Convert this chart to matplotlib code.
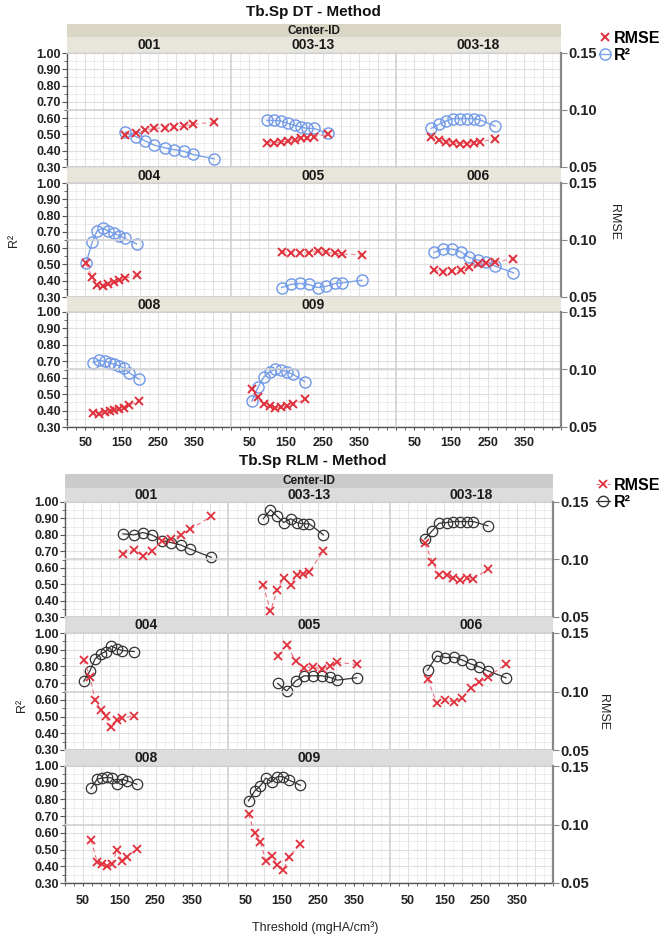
import matplotlib
matplotlib.use('Agg')
import matplotlib.pyplot as plt
from matplotlib.lines import Line2D
from matplotlib.patches import Rectangle
import numpy as np

FONT = ['Liberation Sans', 'DejaVu Sans']
plt.rcParams['font.family'] = FONT

# ---------------- data ----------------
centers = ['001', '003-13', '003-18', '004', '005', '006', '008', '009']

threshold = {
    '001':    [160, 190, 215, 240, 268, 293, 320, 345, 404],
    '003-13': [98, 118, 137, 155, 174, 191, 208, 226, 265],
    '003-18': [96, 117, 136, 156, 175, 194, 212, 230, 270],
    '004':    [52, 69, 83, 99, 112, 128, 144, 158, 191],
    '005':    [138, 163, 188, 212, 236, 260, 284, 304, 357],
    '006':    [104, 129, 153, 177, 199, 223, 246, 270, 320],
    '008':    [72, 89, 103, 117, 130, 144, 156, 170, 198],
    '009':    [57, 74, 90, 105, 121, 137, 153, 169, 201],
}

dt_r2 = {
    '001':    [0.514, 0.486, 0.459, 0.434, 0.418, 0.407, 0.397, 0.377, 0.350],
    '003-13': [0.586, 0.586, 0.582, 0.568, 0.556, 0.545, 0.537, 0.537, 0.506],
    '003-18': [0.537, 0.562, 0.582, 0.597, 0.597, 0.597, 0.597, 0.588, 0.551],
    '004':    [0.506, 0.636, 0.708, 0.722, 0.706, 0.691, 0.677, 0.660, 0.626],
    '005':    [0.358, 0.377, 0.383, 0.377, 0.358, 0.366, 0.383, 0.387, 0.403],
    '006':    [0.574, 0.595, 0.595, 0.578, 0.543, 0.527, 0.516, 0.490, 0.449],
    '008':    [0.692, 0.707, 0.699, 0.692, 0.682, 0.672, 0.658, 0.631, 0.591],
    '009':    [0.458, 0.544, 0.605, 0.635, 0.652, 0.648, 0.635, 0.621, 0.576],
}

dt_rmse = {
    '001':    [0.0780, 0.0800, 0.0824, 0.0839, 0.0844, 0.0850, 0.0859, 0.0874, 0.0894],
    '003-13': [0.0713, 0.0713, 0.0719, 0.0727, 0.0741, 0.0750, 0.0756, 0.0766, 0.0786],
    '003-18': [0.0763, 0.0736, 0.0721, 0.0713, 0.0706, 0.0706, 0.0713, 0.0721, 0.0747],
    '004':    [0.0794, 0.0677, 0.0603, 0.0594, 0.0613, 0.0633, 0.0653, 0.0663, 0.0691],
    '005':    [0.0897, 0.0889, 0.0883, 0.0889, 0.0903, 0.0891, 0.0883, 0.0877, 0.0869],
    '006':    [0.0736, 0.0721, 0.0727, 0.0736, 0.0766, 0.0786, 0.0800, 0.0806, 0.0836],
    '008':    [0.0624, 0.0616, 0.0630, 0.0639, 0.0647, 0.0659, 0.0669, 0.0689, 0.0726],
    '009':    [0.0829, 0.0764, 0.0703, 0.0683, 0.0669, 0.0674, 0.0683, 0.0697, 0.0740],
}

rlm_r2 = {
    '001':    [0.806, 0.800, 0.814, 0.800, 0.765, 0.753, 0.738, 0.714, 0.663],
    '003-13': [0.898, 0.953, 0.912, 0.875, 0.898, 0.875, 0.867, 0.867, 0.800],
    '003-18': [0.775, 0.826, 0.871, 0.875, 0.881, 0.881, 0.881, 0.881, 0.855],
    '004':    [0.712, 0.774, 0.845, 0.875, 0.889, 0.923, 0.905, 0.895, 0.889],
    '005':    [0.698, 0.653, 0.714, 0.744, 0.744, 0.744, 0.734, 0.718, 0.732],
    '006':    [0.778, 0.863, 0.853, 0.855, 0.839, 0.815, 0.798, 0.774, 0.732],
    '008':    [0.866, 0.922, 0.928, 0.932, 0.928, 0.895, 0.922, 0.912, 0.891],
    '009':    [0.792, 0.850, 0.881, 0.928, 0.905, 0.936, 0.936, 0.916, 0.885],
}

rlm_rmse = {
    '001':    [0.1047, 0.1083, 0.1030, 0.1076, 0.1161, 0.1179, 0.1214, 0.1263, 0.1374],
    '003-13': [0.0776, 0.0550, 0.0737, 0.0843, 0.0776, 0.0869, 0.0871, 0.0893, 0.1076],
    '003-18': [0.1140, 0.0980, 0.0869, 0.0869, 0.0843, 0.0826, 0.0840, 0.0829, 0.0916],
    '004':    [0.1270, 0.1126, 0.0924, 0.0843, 0.0794, 0.0693, 0.0757, 0.0771, 0.0794],
    '005':    [0.1307, 0.1399, 0.1261, 0.1203, 0.1211, 0.1191, 0.1220, 0.1250, 0.1231],
    '006':    [0.1106, 0.0901, 0.0924, 0.0910, 0.0944, 0.1033, 0.1077, 0.1126, 0.1231],
    '008':    [0.0866, 0.0677, 0.0660, 0.0644, 0.0660, 0.0786, 0.0691, 0.0721, 0.0791],
    '009':    [0.1089, 0.0927, 0.0850, 0.0689, 0.0727, 0.0653, 0.0610, 0.0719, 0.0830],
}

r2_ticks = [0.30, 0.40, 0.50, 0.60, 0.70, 0.80, 0.90, 1.00]
rmse_ticks = [0.05, 0.10, 0.15]
x_ticklabels = [50, 150, 250, 350]

# ---------------- layout helpers ----------------
W, H = 667, 939
fig = plt.figure(figsize=(W / 100, H / 100), dpi=100)


def rect(x0, y0, x1, y1):
    return [x0 / W, 1 - y1 / H, (x1 - x0) / W, (y1 - y0) / H]


def strip(x0, y0, x1, y1, color, text, size=9.5):
    ax = fig.add_axes(rect(x0, y0, x1, y1))
    ax.set_xlim(0, 1)
    ax.set_ylim(0, 1)
    ax.add_patch(Rectangle((0, 0), 1, 1, facecolor=color, edgecolor='none'))
    ax.axis('off')
    if text:
        ax.text(0.5, 0.47, text, ha='center', va='center', fontsize=size,
                fontweight='bold', color='#1a1a1a')
    return ax


TICKCOL = '#222222'


def block(cols, rows, strips, cid_strip, cid_color, strip_color, r2d, rmsed,
          r2_style, rmse_style, yl_pos, rl_pos, xlab_pad):
    strip(cols[0][0], cid_strip[0], cols[-1][1], cid_strip[1], cid_color,
          'Center-ID', 8.5)
    for i in range(3):
        for j in range(3):
            k = i * 3 + j
            x0, x1 = cols[j]
            y0, y1 = rows[i]
            sy0, sy1 = strips[i]
            strip(x0, sy0, x1, sy1, strip_color,
                  centers[k] if k < len(centers) else '', 10)
            ax = fig.add_axes(rect(x0, y0, x1, y1))
            ax.set_xlim(0, 450)
            ax.set_ylim(0.30, 1.00)
            ax.set_yticks(r2_ticks)
            ax.set_yticks(np.arange(0.30, 1.001, 0.05), minor=True)
            ax.yaxis.grid(True, which='major', color='#e0e0e0', lw=0.8)
            ax.yaxis.grid(True, which='minor', color='#eaeaea', lw=0.6)
            for gx in np.arange(50, 451, 50):
                ax.axvline(gx, color='#e0e0e0', lw=0.8, zorder=0)
            for gx in np.arange(25, 451, 50):
                ax.axvline(gx, color='#ececec', lw=0.6, zorder=0)
            ax.set_axisbelow(True)
            for s in ['top', 'right', 'left', 'bottom']:
                ax.spines[s].set_color('#d4d4d4')
                ax.spines[s].set_linewidth(1.2)
            ax.set_xticks(x_ticklabels)
            ax.set_xticks(np.arange(0, 451, 25), minor=True)
            ax.tick_params(which='both', length=0, labelleft=False,
                           labelbottom=False)
            if j == 0:
                ax.spines['left'].set_color('#555555')
                ax.spines['left'].set_linewidth(1.0)
                ax.tick_params(axis='y', which='major', length=3.5,
                               color='#555555', labelleft=True, pad=1,
                               labelcolor=TICKCOL, labelsize=9)
                ax.tick_params(axis='y', which='minor', length=2,
                               color='#555555')
                ax.set_yticklabels(['%.2f' % t for t in r2_ticks],
                                   fontweight='bold')
            if i == 2:
                ax.spines['bottom'].set_color('#555555')
                ax.spines['bottom'].set_linewidth(1.0)
                ax.tick_params(axis='x', which='both', length=2.5,
                               color='#555555')
                ax.tick_params(axis='x', which='major', labelbottom=True,
                               pad=xlab_pad, labelcolor=TICKCOL, labelsize=9)
                ax.set_xticklabels([str(t) for t in x_ticklabels],
                                   fontweight='bold')
            ax2 = ax.twinx()
            ax2.set_ylim(0.05, 0.15)
            ax2.set_yticks(rmse_ticks)
            ax2.yaxis.grid(True, color='#cfcfcf', lw=1.1)
            for s in ['top', 'right', 'left', 'bottom']:
                ax2.spines[s].set_visible(False)
            ax2.tick_params(length=0, labelright=False)
            if j == 2:
                ax2.spines['right'].set_visible(True)
                ax2.spines['right'].set_color('#888888')
                ax2.spines['right'].set_linewidth(1.6)
                ax2.tick_params(axis='y', length=4, color='#888888',
                                labelright=True, pad=1, labelcolor=TICKCOL,
                                labelsize=10.5)
                ax2.set_yticklabels(['%.2f' % t for t in rmse_ticks],
                                    fontweight='bold')
            if k < len(centers):
                c = centers[k]
                ax.plot(threshold[c], r2d[c], **r2_style)
                ax2.plot(threshold[c], rmsed[c], **rmse_style)
    fig.text(yl_pos[0] / W, 1 - yl_pos[1] / H, 'R²', rotation=90,
             ha='center', va='center', fontsize=9, color='#222')
    fig.text(rl_pos[0] / W, 1 - rl_pos[1] / H, 'RMSE', rotation=270,
             ha='center', va='center', fontsize=9, color='#222')


# ---------------- top: DT method ----------------
fig.text(313 / W, 1 - 12 / H, 'Tb.Sp DT - Method', ha='center', va='center',
         fontsize=11, fontweight='bold', color='#111')

red = '#e0303c'
top_r2_style = dict(color='#7aa2ea', lw=1.0, marker='o', ms=8,
                    mfc='none', mec='#6f98e8', mew=1.0, zorder=3)
top_rmse_style = dict(color='#f08890', lw=0.8, ls=(0, (4, 3)), marker='x',
                      ms=6, mec=red, mew=1.4, zorder=4)

block(cols=[(67, 231), (231, 396), (396, 561)],
      rows=[(53, 167), (183, 297), (312, 427)],
      strips=[(37, 52), (168, 183), (297, 312)],
      cid_strip=(24, 37), cid_color='#d9d6c6', strip_color='#e8e6db',
      r2d=dt_r2, rmsed=dt_rmse, r2_style=top_r2_style,
      rmse_style=top_rmse_style, yl_pos=(14, 240), rl_pos=(614, 222),
      xlab_pad=5)

leg_top_rmse = Line2D([], [], ls='none', marker='x', ms=6, mec=red, mew=1.4)
leg_top_r2 = Line2D([], [], color='#7aa2ea', lw=1.0, marker='o', ms=8,
                    mfc='none', mec='#6f98e8')
fig.legend([leg_top_rmse, leg_top_r2], ['RMSE', 'R²'], loc='upper left',
           bbox_to_anchor=(599 / W, 1 - 31 / H), frameon=False,
           handlelength=0.7, handletextpad=0.25, labelspacing=0.1,
           borderaxespad=0, borderpad=0,
           prop=dict(family=FONT, weight='bold', size=11.5))

# ---------------- bottom: RLM method ----------------
fig.text(313 / W, 1 - 461 / H, 'Tb.Sp RLM - Method', ha='center',
         va='center', fontsize=11, fontweight='bold', color='#111')

bot_r2_style = dict(color='#333333', lw=0.9, marker='o', ms=7.5,
                    mfc='none', mec='#333333', mew=0.9, zorder=3)
bot_rmse_style = dict(color='#ee7080', lw=0.8, ls=(0, (4, 3)), marker='x',
                      ms=5.5, mec=red, mew=1.3, zorder=4)

block(cols=[(65, 228), (228, 390), (390, 553)],
      rows=[(502, 617), (633, 750), (766, 883)],
      strips=[(488, 502), (617, 633), (750, 766)],
      cid_strip=(474, 488), cid_color='#cbcbcb', strip_color='#dcdcdc',
      r2d=rlm_r2, rmsed=rlm_rmse, r2_style=bot_r2_style,
      rmse_style=bot_rmse_style, yl_pos=(22, 705), rl_pos=(603, 712),
      xlab_pad=6)

leg_bot_rmse = Line2D([], [], color='#ee7080', lw=0.8, ls=(0, (3, 2)),
                      marker='x', ms=5.5, mec=red, mew=1.3)
leg_bot_r2 = Line2D([], [], color='#333333', lw=0.9, marker='o', ms=7.5,
                    mfc='none', mec='#333333')
fig.legend([leg_bot_rmse, leg_bot_r2], ['RMSE', 'R²'], loc='upper left',
           bbox_to_anchor=(596 / W, 1 - 478 / H), frameon=False,
           handlelength=0.9, handletextpad=0.25, labelspacing=0.1,
           borderaxespad=0, borderpad=0,
           prop=dict(family=FONT, weight='bold', size=11.5))

fig.text(315 / W, 1 - 928 / H, 'Threshold (mgHA/cm³)', ha='center',
         va='center', fontsize=9, color='#222')

fig.savefig('out.png', dpi=100)
